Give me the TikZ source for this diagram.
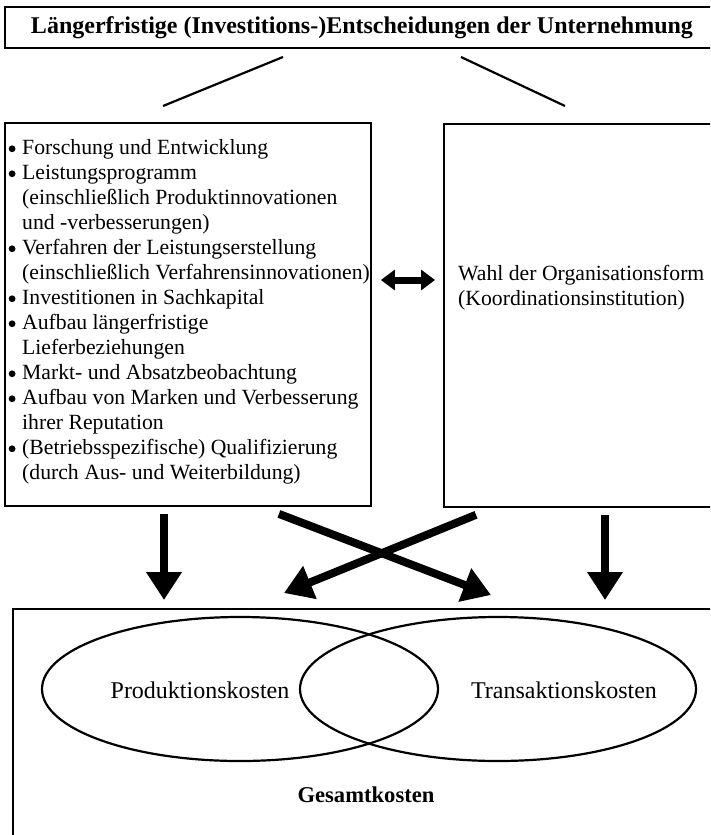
\documentclass[tikz,border=0pt]{standalone}
\usepackage{fontspec}
\setmainfont{Liberation Serif}
\usetikzlibrary{arrows.meta,shapes.geometric,calc}

\tikzset{
  kasten/.style={draw, rectangle, line width=1.8pt, inner sep=0pt},
  liste/.style={align=left, inner sep=0pt, font=\fontsize{21.7}{25}\selectfont},
  kreis/.style={draw, ellipse, line width=2.2pt, inner sep=0pt,
    minimum width=396pt, minimum height=144pt},
  linie/.style={line width=2.2pt},
  pfeil/.style={line width=8pt, -{Triangle[length=28pt,width=34pt]}},
  dpfeil/.style={line width=7pt,
    {Triangle[length=14pt,width=20pt]}-{Triangle[length=14pt,width=20pt]}}
}
\newcommand{\pkt}{\makebox[15pt][l]{\hspace{1.5pt}\tikz[baseline=-5.5pt]\fill (0,0) circle[radius=3.4pt];}}
\newcommand{\ein}{\hspace*{15pt}}

\begin{document}
\begin{tikzpicture}[x=1pt,y=-1pt]
\clip (0,0) rectangle (710,835);
% Kopf
\node[kasten, minimum width=714pt, minimum height=41pt,
  font=\bfseries\fontsize{24}{28}\selectfont] (kopf) at (362,27.5)
  {Längerfristige (Investitions-)Entscheidungen der Unternehmung};
\coordinate (a1) at (283,57);
\coordinate (a2) at (163,106);
\coordinate (b1) at (461,57);
\coordinate (b2) at (565,106);
\draw[linie] (a1) -- (a2);
\draw[linie] (b1) -- (b2);

% Entscheidungen links
\node[kasten, minimum width=366pt, minimum height=383pt] (links) at (188,314.5) {};
\node[liste, anchor=north west] (ltext) at (7,139) {%
\pkt Forschung und Entwicklung\\
\pkt Leistungsprogramm\\
\ein(einschließlich Produktinnovationen\\
\ein und -verbesserungen)\\
\pkt Verfahren der Leistungserstellung\\
\ein(einschließlich Verfahrensinnovationen)\\
\pkt Investitionen in Sachkapital\\
\pkt Aufbau längerfristige\\
\ein Lieferbeziehungen\\
\pkt Markt- und Absatzbeobachtung\\
\pkt Aufbau von Marken und Verbesserung\\
\ein ihrer Reputation\\
\pkt (Betriebsspezifische) Qualifizierung\\
\ein(durch Aus- und Weiterbildung)};

% Organisationsform rechts
\node[kasten, minimum width=320pt, minimum height=383pt, anchor=north west] (rechts) at (443,123) {};
\node[liste, anchor=west] (rtext) at (458,287.5)
  {Wahl der Organisationsform\\(Koordinationsinstitution)};
\coordinate (dh) at (0,280);
\draw[dpfeil] ([xshift=9pt]links.east |- dh) -- ([xshift=-8pt]rechts.west |- dh);

% Kosten
\node[kasten, minimum width=750pt, minimum height=300pt, anchor=north west] (gesamt) at (12,608) {};
\node[kreis] (prod) at (240,689) {};
\node[kreis] (trans) at (498,689) {};
\node[font=\fontsize{24}{28}\selectfont] (ptext) at (200,690) {Produktionskosten};
\node[font=\fontsize{24}{28}\selectfont] (ttext) at (564,690) {Transaktionskosten};
\node[font=\bfseries\fontsize{22.6}{26}\selectfont] (gtext) at (366,795) {Gesamtkosten};

\draw[pfeil] ($(links.south)+(-24,7)$) -- ($(gesamt.north west)+(152,-8)$);
\draw[pfeil] ($(links.south east)+(-93,7)$) -- ($(gesamt.north west)+(479,-13)$);
\draw[pfeil] ($(rechts.south west)+(33,7)$) -- ($(gesamt.north west)+(272,-15)$);
\draw[pfeil] ($(rechts.south west)+(162,7)$) -- ($(gesamt.north west)+(593,-8)$);
\end{tikzpicture}
\end{document}
